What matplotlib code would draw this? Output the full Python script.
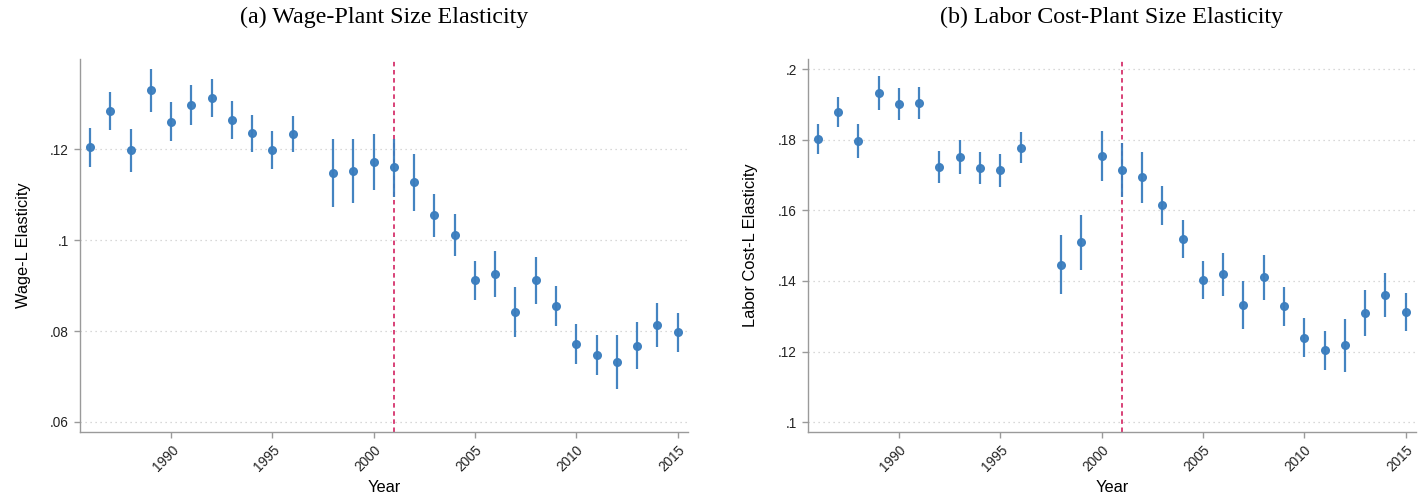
import numpy as np
import matplotlib
matplotlib.use("Agg")
import matplotlib.pyplot as plt

years = [1986, 1987, 1988, 1989, 1990, 1991, 1992, 1993, 1994, 1995, 1996,
         1998, 1999, 2000, 2001, 2002, 2003, 2004, 2005, 2006, 2007, 2008,
         2009, 2010, 2011, 2012, 2013, 2014, 2015]

# panel (a) wage-L elasticity
wage = [0.1204, 0.1284, 0.1199, 0.1330, 0.1261, 0.1298, 0.1312, 0.1264, 0.1235, 0.1199, 0.1234,
        0.1147, 0.1152, 0.1173, 0.1160, 0.1127, 0.1055, 0.1012, 0.0912, 0.0926, 0.0843, 0.0912,
        0.0856, 0.0772, 0.0747, 0.0732, 0.0768, 0.0813, 0.0797]
wage_hi = [0.1246, 0.1325, 0.1245, 0.1376, 0.1304, 0.1341, 0.1355, 0.1306, 0.1276, 0.1240, 0.1273,
           0.1222, 0.1223, 0.1234, 0.1223, 0.1189, 0.1102, 0.1058, 0.0954, 0.0976, 0.0898, 0.0963,
           0.0900, 0.0816, 0.0791, 0.0791, 0.0820, 0.0862, 0.0840]
wage_lo = [0.1162, 0.1243, 0.1151, 0.1283, 0.1218, 0.1254, 0.1270, 0.1222, 0.1194, 0.1157, 0.1193,
           0.1074, 0.1081, 0.1111, 0.1096, 0.1064, 0.1007, 0.0966, 0.0868, 0.0875, 0.0786, 0.0860,
           0.0811, 0.0727, 0.0703, 0.0672, 0.0717, 0.0764, 0.0755]

# panel (b) labor cost-L elasticity
cost = [0.1803, 0.1878, 0.1796, 0.1932, 0.1901, 0.1905, 0.1722, 0.1751, 0.1720, 0.1714, 0.1778,
        0.1446, 0.1509, 0.1754, 0.1714, 0.1694, 0.1614, 0.1520, 0.1403, 0.1419, 0.1332, 0.1411,
        0.1329, 0.1239, 0.1204, 0.1218, 0.1309, 0.1361, 0.1313]
cost_hi = [0.1846, 0.1921, 0.1844, 0.1981, 0.1946, 0.1949, 0.1768, 0.1798, 0.1766, 0.1759, 0.1822,
           0.1529, 0.1588, 0.1824, 0.1791, 0.1766, 0.1670, 0.1574, 0.1456, 0.1479, 0.1401, 0.1473,
           0.1384, 0.1294, 0.1259, 0.1293, 0.1374, 0.1422, 0.1365]
cost_lo = [0.1759, 0.1836, 0.1747, 0.1884, 0.1856, 0.1859, 0.1677, 0.1703, 0.1675, 0.1667, 0.1733,
           0.1363, 0.1431, 0.1682, 0.1638, 0.1621, 0.1558, 0.1466, 0.1350, 0.1358, 0.1263, 0.1347,
           0.1273, 0.1184, 0.1149, 0.1143, 0.1245, 0.1299, 0.1259]

wage_ticks = [0.06, 0.08, 0.10, 0.12]
wage_labels = [".06", ".08", ".1", ".12"]
cost_ticks = [0.10, 0.12, 0.14, 0.16, 0.18, 0.20]
cost_labels = [".1", ".12", ".14", ".16", ".18", ".2"]
year_ticks = [1990, 1995, 2000, 2005, 2010, 2015]
break_year = 2001

blue = "#3A7DBE"
red = "#D6336C"
gray = "#9A9A9A"

fig = plt.figure(figsize=(14.24, 4.97), dpi=100)
ax1 = fig.add_axes([0.0562, 0.1308, 0.4267, 0.7499])
ax2 = fig.add_axes([0.5672, 0.1308, 0.4270, 0.7499])


def panel(ax, y, lo, hi, ticks, labels, ylim, title, ylabel):
    y = np.array(y)
    err = np.vstack([y - np.array(lo), np.array(hi) - y])
    ax.axvline(break_year, color=red, ls=(0, (2.5, 2)), lw=1.3, zorder=1)
    ax.errorbar(years, y, yerr=err, fmt="o", color=blue, ecolor=blue, elinewidth=1.6,
                capsize=0, markersize=5.5, alpha=0.95, zorder=3)
    ax.set_xlim(1985.5, 2015.5)
    ax.set_ylim(*ylim)
    ax.set_yticks(ticks)
    ax.set_yticklabels(labels, fontsize=9.8, family="Liberation Sans")
    ax.set_xticks(year_ticks)
    ax.set_xticklabels([str(t) for t in year_ticks], rotation=45, ha="right",
                       rotation_mode="anchor", fontsize=9.8, family="Liberation Sans")
    for yt in ticks:
        ax.axhline(yt, color="#CCCCCC", ls=(0, (1, 3)), lw=0.9, zorder=0)
    for s in ["top", "right"]:
        ax.spines[s].set_visible(False)
    for s in ["left", "bottom"]:
        ax.spines[s].set_color(gray)
        ax.spines[s].set_linewidth(1.0)
    ax.tick_params(colors=gray, labelcolor="#222222", length=4.5, width=1.0)
    ax.set_title(title, fontsize=17.3, family="Liberation Serif", pad=26)
    ax.set_xlabel("Year", fontsize=11.8, family="Liberation Sans", labelpad=4)
    ax.set_ylabel(ylabel, fontsize=11.8, family="Liberation Sans", labelpad=14)


panel(ax1, wage, wage_lo, wage_hi, wage_ticks, wage_labels, (0.0578, 0.1398),
      "(a) Wage-Plant Size Elasticity", "Wage-L Elasticity")
panel(ax2, cost, cost_lo, cost_hi, cost_ticks, cost_labels, (0.0972, 0.2028),
      "(b) Labor Cost-Plant Size Elasticity", "Labor Cost-L Elasticity")

fig.savefig("out.png", dpi=100)
